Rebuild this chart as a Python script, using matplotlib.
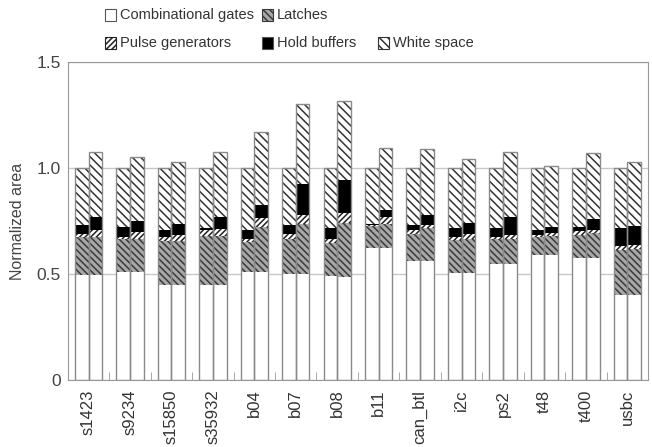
import matplotlib
matplotlib.use('Agg')
import matplotlib.pyplot as plt
import matplotlib.ticker as ticker
from matplotlib.patches import Rectangle
import numpy as np

plt.rcParams['font.family'] = ['Liberation Sans', 'DejaVu Sans']
plt.rcParams['hatch.linewidth'] = 1.1

benchmarks = ['s1423', 's9234', 's15850', 's35932', 'b04', 'b07', 'b08',
              'b11', 'can_btl', 'i2c', 'ps2', 't48', 't400', 'usbc']

# baseline design (normalized to 1.0)
base_comb  = [0.495, 0.511, 0.449, 0.449, 0.508, 0.500, 0.490, 0.621, 0.560, 0.503, 0.545, 0.591, 0.575, 0.399]
base_latch = [0.179, 0.156, 0.207, 0.231, 0.141, 0.167, 0.155, 0.104, 0.131, 0.157, 0.119, 0.085, 0.107, 0.214]
base_pg    = [0.017, 0.009, 0.018, 0.026, 0.018, 0.020, 0.022, 0.004, 0.015, 0.016, 0.012, 0.006, 0.023, 0.020]
base_hold  = [0.042, 0.046, 0.036, 0.011, 0.043, 0.046, 0.050, 0.006, 0.027, 0.041, 0.041, 0.028, 0.015, 0.084]
base_ws    = [0.267, 0.278, 0.290, 0.283, 0.290, 0.267, 0.283, 0.265, 0.267, 0.283, 0.283, 0.290, 0.280, 0.283]

# proposed design
new_comb  = [0.495, 0.511, 0.449, 0.449, 0.508, 0.500, 0.487, 0.621, 0.560, 0.503, 0.545, 0.591, 0.575, 0.399]
new_latch = [0.179, 0.156, 0.209, 0.231, 0.212, 0.237, 0.256, 0.116, 0.158, 0.161, 0.122, 0.088, 0.120, 0.219]
new_pg    = [0.032, 0.030, 0.024, 0.033, 0.043, 0.041, 0.043, 0.033, 0.015, 0.023, 0.015, 0.016, 0.015, 0.018]
new_hold  = [0.062, 0.055, 0.055, 0.055, 0.064, 0.149, 0.157, 0.032, 0.045, 0.056, 0.086, 0.027, 0.050, 0.092]
new_ws    = [0.308, 0.300, 0.292, 0.308, 0.344, 0.375, 0.374, 0.295, 0.310, 0.302, 0.308, 0.286, 0.311, 0.299]

labels = ['Combinational gates', 'Latches', 'Pulse generators', 'Hold buffers', 'White space']
faces = ['white', '#a8a8a8', 'white', 'black', 'white']
hatches = [None, '\\\\\\\\\\', '//////', None, '\\\\\\\\']
hcolors = ['#888888', '#3a3a3a', '#222222', 'black', '#333333']

W, H = 652, 447
fig = plt.figure(figsize=(W / 100, H / 100), dpi=100)
ax = fig.add_axes([0.104, 0.150, 0.890, 0.711])

x = np.arange(len(benchmarks))
w = 0.33
outline = '#8a8a8a'


def stacked(xpos, parts):
    bottom = np.zeros(len(xpos))
    for vals, fc, h, hc in zip(parts, faces, hatches, hcolors):
        vals = np.array(vals)
        ax.bar(xpos, vals, w, bottom=bottom, color=fc, hatch=h,
               edgecolor=hc, linewidth=0, align='edge', zorder=2)
        bottom = bottom + vals
    ax.bar(xpos, bottom, w, fill=False, edgecolor=outline, linewidth=1.0,
           align='edge', zorder=3)


stacked(x - w, [base_comb, base_latch, base_pg, base_hold, base_ws])
stacked(x, [new_comb, new_latch, new_pg, new_hold, new_ws])

ax.set_xlim(-0.5, len(benchmarks) - 0.5)
ax.set_ylim(0, 1.5)
ax.set_yticks([0, 0.5, 1.0, 1.5])
ax.yaxis.set_major_formatter(ticker.FuncFormatter(lambda v, p: '0' if v == 0 else '%.1f' % v))
ax.set_xticks(x)
ax.set_xticklabels(benchmarks, rotation=90, fontsize=12, color='#333333')
ax.xaxis.set_minor_locator(ticker.FixedLocator(x[:-1] + 0.5))
ax.tick_params(axis='x', which='major', length=0, pad=7)
ax.tick_params(axis='x', which='minor', direction='in', length=6, color='#999999')
ax.tick_params(axis='y', length=0, labelsize=12.5, labelcolor='#444444', pad=5)
ax.yaxis.grid(True, color='#c8c8c8', linewidth=1.0, zorder=0)
ax.set_axisbelow(True)
for s in ax.spines.values():
    s.set_color('#999999')
ax.set_ylabel('Normalized area', fontsize=11.5, color='#444444', labelpad=8)

# legend laid out by hand: two rows, as in the original figure
leg_pos = [(105, 15), (262, 15), (105, 43), (262, 43), (378, 43)]
box = 11
for (px, py), lab, fc, h, hc in zip(leg_pos, labels, faces, hatches, hcolors):
    r = Rectangle((px / W, 1 - (py + box / 2) / H), box / W, box / H,
                  transform=fig.transFigure, facecolor=fc, hatch=h,
                  edgecolor=hc if h else '#555555', linewidth=0.8)
    fig.add_artist(r)
    fig.text((px + box + 4) / W, 1 - py / H, lab, fontsize=10.5,
             color='#333333', va='center', ha='left')

fig.savefig('out.png', dpi=100)
